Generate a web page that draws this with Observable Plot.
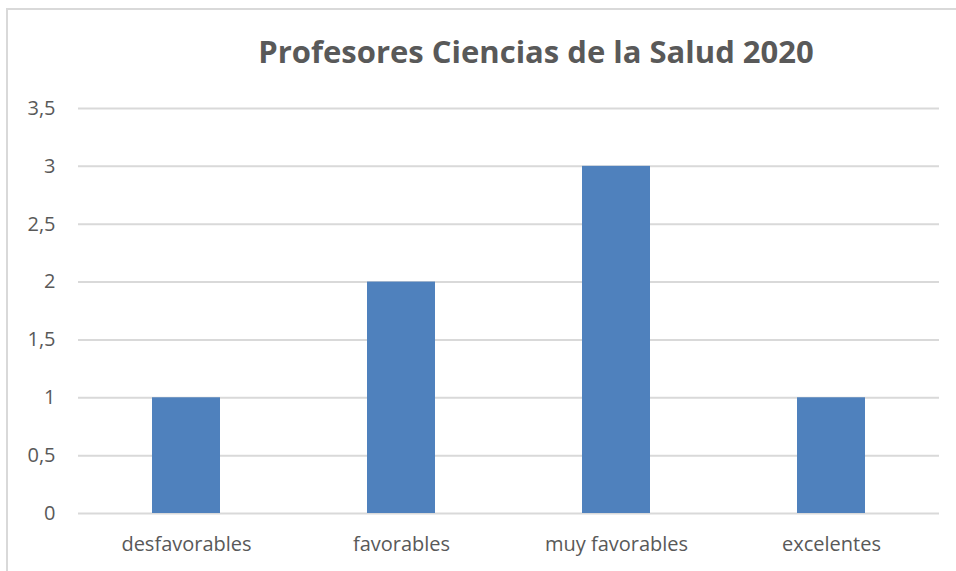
<!DOCTYPE html>
<html>
<head>
<meta charset="utf-8">
<script src="https://cdn.jsdelivr.net/npm/d3@7"></script>
<script src="https://cdn.jsdelivr.net/npm/@observablehq/plot@0.6"></script>
<style>
  html, body { margin: 0; padding: 0; background: #fff; }
  #wrap { position: relative; width: 956px; height: 571px; overflow: hidden; font-family: "Open Sans", sans-serif; }
  #border { position: absolute; left: 6px; top: 8px; width: 980px; height: 600px; border-left: 2px solid #d9d9d9; border-top: 2px solid #d9d9d9; box-sizing: border-box; }
  #title { position: absolute; left: 0; width: 1072px; top: 33px; line-height: 36px; text-align: center; font-size: 31px; font-weight: 700; color: #595959; white-space: nowrap; }
  #chart { position: absolute; left: 0; top: 0; }
</style>
</head>
<body>
<div id="wrap">
  <div id="border"></div>
  <div id="title">Profesores Ciencias de la Salud 2020</div>
  <div id="chart"></div>
</div>
<script>
const categories = ["desfavorables", "favorables", "muy favorables", "excelentes"];
const values = [1, 2, 3, 1];
const yTicks = [0, 0.5, 1, 1.5, 2, 2.5, 3, 3.5];

const data = categories.map((c, i) => ({category: c, value: values[i]}));
const fmt = v => String(v).replace(".", ",");

const chart = Plot.plot({
  width: 956,
  height: 571,
  marginLeft: 78,
  marginRight: 17,
  marginTop: 108,
  marginBottom: 58,
  style: {fontFamily: "Open Sans, sans-serif", fontSize: "20px", color: "#595959", background: "transparent"},
  x: {domain: categories, paddingInner: 0.684, paddingOuter: 0.342, label: null},
  y: {domain: [0, 3.5], label: null},
  marks: [
    Plot.ruleY(yTicks, {stroke: "#d9d9d9", strokeWidth: 2}),
    Plot.barY(data, {x: "category", y: "value", fill: "#4f81bd"}),
    Plot.axisY({ticks: yTicks, tickFormat: fmt, tickSize: 0, tickPadding: 23, label: null, fill: "#595959", fontSize: 20}),
    Plot.axisX({tickSize: 0, tickPadding: 23, label: null, fill: "#595959", fontSize: 20})
  ]
});
document.getElementById("chart").appendChild(chart);
</script>
</body>
</html>
